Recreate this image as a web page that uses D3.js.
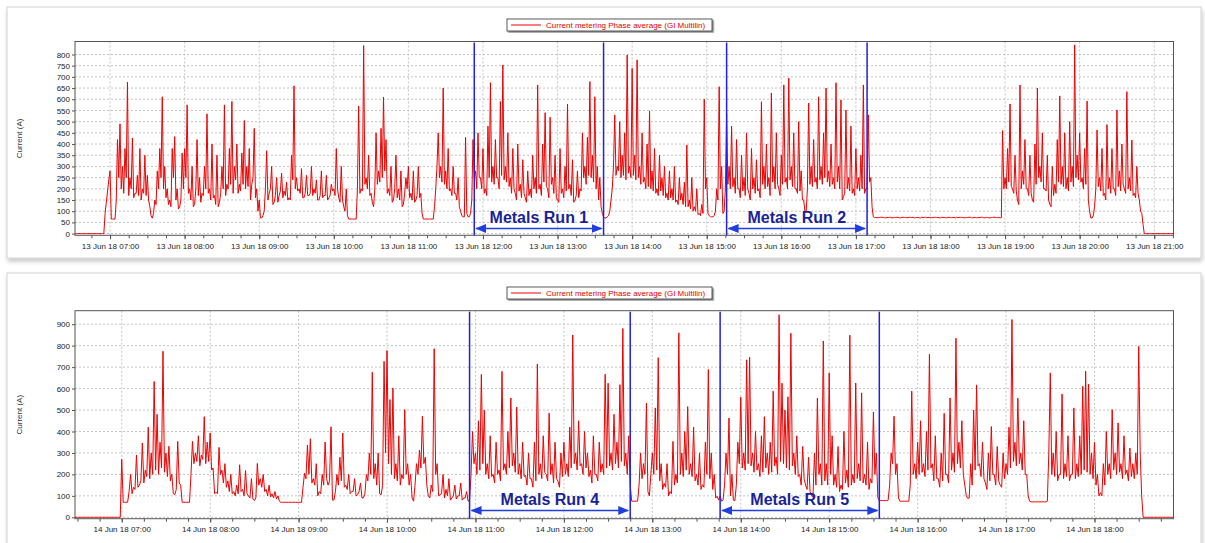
<!DOCTYPE html>
<html>
<head>
<meta charset="utf-8">
<script src="https://cdn.jsdelivr.net/npm/d3@7"></script>
<style>
  body { margin: 0; background: #fff; }
  svg text { font-family: "Liberation Sans", Arial, sans-serif; }
</style>
</head>
<body>
<svg id="chart" width="1205" height="543"></svg>
<script>
// one slot every 2 minutes: the upper reading at the slot, the lower edge of
// the band one minute later. Values in A.
const stepMin = 2;

// 13 Jun 18, starting 06:30
const top06   = [0,0,0,0,0,0,0,0,0,0,0,0,0,90,190];
const top06lo = [0,0,0,0,0,0,0,0,0,0,0,0,0,140,240];
const top07   = [280,65,65,420,490,300,380,677,250,427,180,260,380,200,350,260,120,69,150,280,380,611,300,200,150,380,433,200,120,360];
const top07lo = [65,65,150,250,200,180,250,170,200,160,180,170,150,180,170,150,80,90,130,200,250,200,160,130,120,250,150,110,150,200];
const top08   = [380,575,200,300,130,420,250,180,300,535,200,400,170,350,140,300,575,220,380,590,300,400,220,360,505,300,380,220,470,200];
const top08lo = [250,180,150,120,200,170,140,170,200,180,150,160,130,120,180,200,170,200,220,180,240,180,190,220,200,210,150,250,160,100];
const top09   = [150,70,100,370,180,300,140,250,170,270,190,230,160,350,660,250,200,290,160,260,170,300,200,240,150,280,170,260,160,220];
const top09lo = [70,80,200,150,200,130,170,140,190,160,170,150,150,240,200,190,180,160,180,170,180,170,180,150,170,160,170,150,170,190];
const top10   = [200,380,160,300,120,200,65,65,65,65,570,200,840,250,350,180,120,450,280,470,610,420,200,300,150,350,200,280,130,250];
const top10lo = [170,200,140,150,100,80,65,65,65,200,180,190,220,200,170,140,200,220,230,250,280,180,170,140,200,160,150,120,180,200];
const top11   = [300,180,280,150,300,180,65,65,65,65,65,200,450,300,650,280,380,200,300,180,250,100,75,430,75,90,420,280,450,250];
const top11lo = [160,150,140,170,160,90,65,65,65,65,120,300,250,230,220,200,190,170,180,150,120,80,75,90,75,150,250,200,250,200];
const top12   = [380,200,480,674,300,420,250,590,753,300,450,250,380,180,400,220,330,160,280,200,350,250,664,220,400,540,200,520,250,350];
const top12lo = [180,170,250,230,220,250,200,260,240,230,210,180,200,150,190,160,180,140,170,160,200,180,200,170,230,210,160,220,180,160];
const top13   = [150,380,200,300,579,220,330,150,280,200,450,300,430,679,350,611,300,250,90,70,75,100,200,530,300,500,350,450,798,300];
const top13lo = [140,180,160,190,200,170,140,170,160,190,250,220,260,250,230,200,150,120,75,70,80,150,300,260,280,250,260,240,270,250];
const top14   = [738,350,776,300,450,250,400,548,280,380,200,350,250,300,180,280,200,300,150,250,180,230,396,150,250,120,200,90,130,600];
const top14lo = [260,240,250,220,230,200,210,200,190,180,170,190,170,160,150,160,150,140,130,150,130,120,120,110,100,100,85,80,90,200];
const top15   = [250,80,75,80,200,656,300,100,538,300,480,250,420,200,350,250,450,180,380,250,330,200,589,300,400,250,628,300,450,200];
const top15lo = [90,75,75,100,150,200,90,200,220,200,210,180,200,160,190,170,200,150,200,180,190,160,220,200,210,170,230,200,220,170];
const top16   = [350,664,250,694,300,450,200,500,280,150,100,583,300,420,250,611,300,450,650,280,400,250,674,300,597,165,552,250,480,200];
const top16lo = [220,230,200,240,210,200,180,190,150,100,200,220,210,230,200,240,220,250,230,210,220,200,230,200,150,180,200,190,180,170];
const top17   = [380,250,350,664,200,530,250,75,72,71,73,72,70,72,73,71,72,72,70,73,72,71,72,73,71,72,70,72,73,72];
const top17lo = [200,190,200,180,200,230,120,72,71,72,73,71,72,72,70,72,73,71,72,72,71,73,72,70,72,71,73,72,71,72];
const top18   = [72,71,73,72,70,72,71,73,72,72,70,71,73,72,71,72,73,70,72,71,72,73,71,72,70,72,73,71,70,460];
const top18lo = [71,72,72,71,73,72,70,72,71,72,73,72,71,70,72,73,71,72,71,72,73,70,72,71,72,73,71,72,71,200];
const top19   = [250,380,579,200,350,150,664,280,420,200,350,150,400,650,300,450,200,350,130,300,220,420,615,300,450,250,500,300,843,350];
const top19lo = [200,230,210,180,190,130,200,220,200,170,180,140,220,250,230,200,190,150,120,170,180,230,220,210,200,190,230,210,250,240];
const top20   = [450,250,380,592,100,69,120,463,250,380,180,487,250,380,200,552,280,400,200,634,250,418,180,300,150,90,0,0,0,0];
const top20lo = [230,200,220,150,70,80,200,210,190,170,150,200,180,200,170,210,190,220,180,200,190,170,160,180,100,40,0,0,0,0];
const top21   = [0,0,0,0,0,0,0,0,0];
const top21lo = [0,0,0,0,0,0,0,0,0];

// 14 Jun 18, starting 06:28
const bot06   = [0,0,0,0,0,0,0,0,0,0,0,0,0,0,0,0];
const bot06lo = [0,0,0,0,0,0,0,0,0,0,0,0,0,0,0,0];
const bot07   = [270,70,70,200,140,290,150,346,220,420,300,633,480,350,774,300,331,200,105,354,150,70,70,70,354,300,380,290,469,350];
const bot07lo = [70,70,120,110,130,140,170,160,190,180,200,220,200,230,210,190,170,110,130,160,70,70,70,200,250,260,240,270,250,260];
const bot08   = [393,230,117,326,220,250,170,200,120,150,245,130,218,100,180,78,251,180,200,130,150,110,120,100,70,70,70,70,70,70];
const bot08lo = [220,110,110,200,160,140,120,110,100,110,120,100,110,90,85,90,150,140,120,100,95,90,85,75,70,70,70,70,70,70];
const bot09   = [70,70,205,337,366,180,250,120,200,351,150,422,81,200,280,393,150,200,120,180,105,160,91,200,300,676,250,300,105,727];
const bot09lo = [70,140,180,200,160,150,100,110,150,180,170,80,120,150,170,140,130,110,120,100,120,90,110,170,200,180,150,110,150,300];
const bot10   = [777,549,603,250,380,200,502,250,200,75,250,314,471,280,100,150,786,250,105,200,130,180,90,150,100,160,90,120,80,400];
const bot10lo = [250,200,180,170,150,180,200,150,90,150,200,230,250,150,90,120,200,100,110,90,100,80,100,85,100,80,90,75,200,250];
const bot11   = [300,450,666,500,250,380,200,350,220,680,250,400,556,300,514,250,350,195,300,180,350,715,250,380,200,486,250,350,169,300];
const bot11lo = [200,220,250,200,180,190,160,200,170,220,200,230,240,210,200,180,190,150,180,140,170,200,180,210,170,200,160,180,140,190];
const bot12   = [350,250,420,850,300,450,250,400,300,220,380,200,350,250,667,625,300,480,350,618,880,300,380,75,75,75,300,250,532,100];
const bot12lo = [200,190,230,250,220,240,200,230,190,160,200,170,210,200,230,240,220,250,230,260,240,200,150,75,75,150,180,200,120,200];
const bot13   = [300,510,744,250,158,250,120,354,200,860,300,400,516,250,420,200,300,152,350,689,300,200,98,100,81,300,463,200,78,350];
const bot13lo = [200,220,170,130,140,100,110,150,160,200,190,220,200,190,170,150,130,140,200,180,130,90,80,75,150,200,100,80,150,250];
const bot14   = [560,300,734,746,300,400,250,380,469,300,350,588,280,944,625,500,562,858,300,380,200,330,150,280,100,300,556,250,822,250];
const bot14lo = [230,220,250,240,210,220,190,210,230,200,210,240,200,260,250,230,220,240,200,190,150,180,130,120,95,150,200,150,170,150];
const bot15   = [673,380,200,330,150,401,220,849,200,626,250,580,200,350,180,491,300,78,78,78,80,300,471,250,75,75,75,75,588,250];
const bot15lo = [200,150,140,120,130,160,140,150,160,180,170,160,150,130,160,200,90,78,78,78,150,250,200,90,75,75,75,150,200,180];
const bot16   = [350,450,250,400,760,250,380,180,300,485,200,556,300,835,350,450,150,88,250,500,617,250,350,160,300,423,200,330,150,300];
const bot16lo = [200,210,190,220,230,170,180,140,170,200,160,220,210,250,230,200,100,90,150,220,240,190,180,130,170,200,150,170,140,180];
const bot17   = [250,420,922,350,555,300,450,200,75,72,72,72,72,72,75,673,300,400,200,575,250,380,200,510,250,380,611,681,620,300];
const bot17lo = [200,230,260,240,250,220,200,100,72,72,72,72,72,72,300,200,190,170,200,180,190,170,200,180,190,200,220,210,200,180];
const bot18   = [350,200,115,250,400,250,502,300,440,250,380,220,323,250,300,797,100,0,0,0,0,0,0,0,0,0,0,0,0,0];
const bot18lo = [150,100,100,150,200,180,220,200,210,180,200,170,190,180,200,300,0,0,0,0,0,0,0,0,0,0,0,0,0,0];

const topYTicks = d3.range(0, 801, 50);
const botYTicks = d3.range(0, 901, 100);

const topRuns = [["11:53", "13:37"], ["15:16", "17:09"]];
const topRunNames = ["Metals Run 1", "Metals Run 2"];
const botRuns = [["10:56", "12:45"], ["13:46", "15:34"]];
const botRunNames = ["Metals Run 4", "Metals Run 5"];

const legendText = "Current metering Phase average (GI Multilin)";

// ---------------------------------------------------------------
const at = (day, h, m) => new Date(new Date(2018, 5, day, h, 0, 0).getTime() + m * 60000);
const hm = (day, s) => { const p = s.split(":"); return at(day, +p[0], +p[1]); };
const fmtTick = d3.timeFormat("%d %b %y %H:%M");

const panels = [
  {
    day: 13, start: [6, 30],
    hi: [].concat(top06, top07, top08, top09, top10, top11, top12, top13, top14, top15, top16, top17, top18, top19, top20, top21),
    lo: [].concat(top06lo, top07lo, top08lo, top09lo, top10lo, top11lo, top12lo, top13lo, top14lo, top15lo, top16lo, top17lo, top18lo, top19lo, top20lo, top21lo),
    xFrom: [6, 31.8], xTo: [21, 15.5], yDom: [-7.6, 858], yTicks: topYTicks,
    runs: topRuns, runNames: topRunNames,
    card: [7, 7, 1194, 251], plot: [75, 41.5, 1173.5, 235.3],
    legendY: 19, textY: 222.5, arrowY: 228.5
  },
  {
    day: 14, start: [6, 28],
    hi: [].concat(bot06, bot07, bot08, bot09, bot10, bot11, bot12, bot13, bot14, bot15, bot16, bot17, bot18),
    lo: [].concat(bot06lo, bot07lo, bot08lo, bot09lo, bot10lo, bot11lo, bot12lo, bot13lo, bot14lo, bot15lo, bot16lo, bot17lo, bot18lo),
    xFrom: [6, 28.3], xTo: [18, 53.6], yDom: [-6.5, 963], yTicks: botYTicks,
    runs: botRuns, runNames: botRunNames,
    card: [7, 273, 1194, 275], plot: [75, 310.7, 1173.5, 518.7],
    legendY: 287, textY: 505, arrowY: 510.5
  }
];

const svg = d3.select("#chart");
const defs = svg.append("defs");

const cardShadow = defs.append("filter").attr("id", "cardShadow")
  .attr("x", "-2%").attr("y", "-5%").attr("width", "104%").attr("height", "115%");
cardShadow.append("feDropShadow").attr("dx", 1).attr("dy", 3).attr("stdDeviation", 2)
  .attr("flood-color", "#000").attr("flood-opacity", 0.22);

const legShadow = defs.append("filter").attr("id", "legShadow");
legShadow.append("feDropShadow").attr("dx", 1.5).attr("dy", 1.5).attr("stdDeviation", 0.7)
  .attr("flood-color", "#000").attr("flood-opacity", 0.45);

defs.append("marker").attr("id", "arrowHead")
  .attr("markerUnits", "userSpaceOnUse")
  .attr("markerWidth", 11).attr("markerHeight", 9)
  .attr("refX", 10).attr("refY", 4.5)
  .attr("orient", "auto-start-reverse")
  .append("path").attr("d", "M0,0 L11,4.5 L0,9 Z").attr("fill", "#1f3fe0");

panels.forEach((p, k) => {
  const [px0, py0, px1, py1] = p.plot;
  const x = d3.scaleTime().domain([at(p.day, ...p.xFrom), at(p.day, ...p.xTo)]).range([px0, px1]);
  const y = d3.scaleLinear().domain(p.yDom).range([py1, py0]);
  const t0 = at(p.day, ...p.start).getTime();
  const data = [];
  p.hi.forEach((v, i) => {
    const t = t0 + i * stepMin * 60000;
    data.push({ t: new Date(t), v });
    data.push({ t: new Date(t + 60000), v: p.lo[i] });
  });

  const g = svg.append("g");

  // card
  g.append("rect")
    .attr("x", p.card[0]).attr("y", p.card[1])
    .attr("width", p.card[2]).attr("height", p.card[3])
    .attr("fill", "#fff").attr("stroke", "#d2d2d2")
    .attr("filter", "url(#cardShadow)");

  const hours = x.ticks(d3.timeHour.every(1));

  // grid
  g.append("g").selectAll("line").data(hours).join("line")
    .attr("x1", d => x(d)).attr("x2", d => x(d))
    .attr("y1", py0).attr("y2", py1)
    .attr("stroke", "#c4c4c4").attr("stroke-dasharray", "2,2");
  g.append("g").selectAll("line").data(p.yTicks).join("line")
    .attr("x1", px0).attr("x2", px1)
    .attr("y1", d => y(d)).attr("y2", d => y(d))
    .attr("stroke", "#c4c4c4").attr("stroke-dasharray", "2,2");

  // axes
  const xMinor = g.append("g").attr("transform", `translate(0,${py1})`)
    .call(d3.axisBottom(x).ticks(d3.timeMinute.every(15)).tickSize(3).tickFormat(""));
  const xAxis = g.append("g").attr("transform", `translate(0,${py1})`)
    .call(d3.axisBottom(x).ticks(d3.timeHour.every(1)).tickSize(4).tickPadding(4).tickFormat(fmtTick));
  const yAxis = g.append("g").attr("transform", `translate(${px0},0)`)
    .call(d3.axisLeft(y).tickValues(p.yTicks).tickSize(3).tickPadding(2));
  [xMinor, xAxis, yAxis].forEach(a => {
    a.select(".domain").remove();
    a.selectAll("line").attr("stroke", "#555");
    a.selectAll("text").attr("fill", "#222").attr("font-size", 8)
      .attr("font-family", "'Liberation Sans', Arial, sans-serif");
  });

  g.append("text")
    .attr("transform", `translate(22,${(py0 + py1) / 2}) rotate(-90)`)
    .attr("text-anchor", "middle").attr("font-size", 8).attr("fill", "#333")
    .text("Current (A)");

  // series
  const clipId = "clip" + k;
  defs.append("clipPath").attr("id", clipId).append("rect")
    .attr("x", px0).attr("y", py0).attr("width", px1 - px0).attr("height", py1 - py0);

  g.append("path").datum(data)
    .attr("clip-path", `url(#${clipId})`)
    .attr("fill", "none").attr("stroke", "#ee0000").attr("stroke-width", 1)
    .attr("stroke-linejoin", "round")
    .attr("d", d3.line().x(d => x(d.t)).y(d => y(d.v)));

  // frame
  g.append("rect").attr("x", px0).attr("y", py0)
    .attr("width", px1 - px0).attr("height", py1 - py0)
    .attr("fill", "none").attr("stroke", "#555").attr("stroke-width", 1);

  // metals runs
  p.runs.forEach((r, i) => {
    const xa = x(hm(p.day, r[0])), xb = x(hm(p.day, r[1]));
    [xa, xb].forEach(xv => g.append("line")
      .attr("x1", xv).attr("x2", xv).attr("y1", py0 + 1).attr("y2", py1)
      .attr("stroke", "#1f1fe8").attr("stroke-width", 1.5));
    g.append("line")
      .attr("x1", xa + 2).attr("x2", xb - 2)
      .attr("y1", p.arrowY).attr("y2", p.arrowY)
      .attr("stroke", "#1f3fe0").attr("stroke-width", 1.5)
      .attr("marker-start", "url(#arrowHead)").attr("marker-end", "url(#arrowHead)");
    g.append("text")
      .attr("x", (xa + xb) / 2).attr("y", p.textY)
      .attr("text-anchor", "middle")
      .attr("font-family", "Lato, 'Open Sans', sans-serif")
      .attr("font-weight", 700).attr("font-size", 16)
      .attr("fill", "#1a2396")
      .text(p.runNames[i]);
  });

  // legend
  const ly = p.legendY;
  g.append("rect").attr("x", 507).attr("y", ly).attr("width", 205).attr("height", 12)
    .attr("fill", "#fff").attr("stroke", "#333").attr("stroke-width", 0.8)
    .attr("filter", "url(#legShadow)");
  g.append("line").attr("x1", 511).attr("x2", 541).attr("y1", ly + 6).attr("y2", ly + 6)
    .attr("stroke", "#ee0000").attr("stroke-width", 1);
  g.append("text").attr("x", 546).attr("y", ly + 9)
    .attr("font-size", 8).attr("fill", "#e00000")
    .text(legendText);
});
</script>
</body>
</html>
